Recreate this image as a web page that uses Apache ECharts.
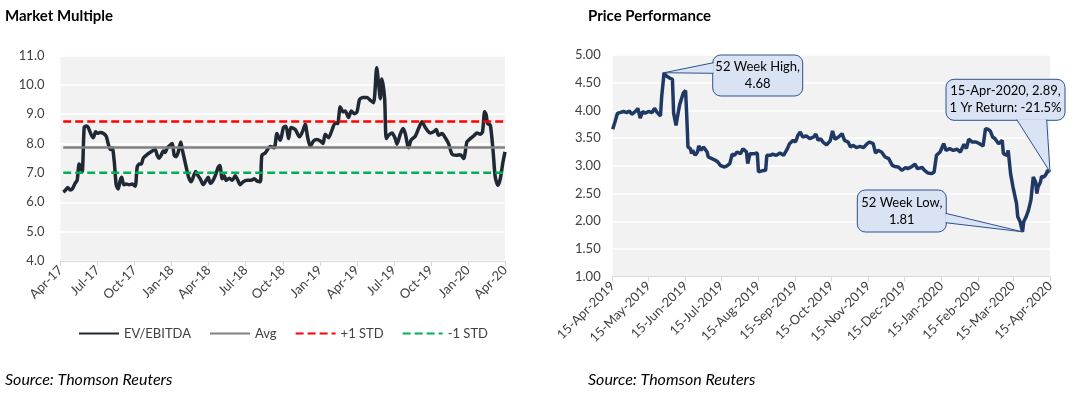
<!DOCTYPE html>
<html><head><meta charset="utf-8">
<script src="https://cdn.jsdelivr.net/npm/echarts@6/dist/echarts.min.js"></script>
<style>html,body{margin:0;padding:0;background:#fff}#c{width:1076px;height:394px}</style>
</head><body><div id="c"></div><script>
// ---------- Market Multiple (months since Apr-2017) ----------
const mmTickLabels = ['Apr-17','Jul-17','Oct-17','Jan-18','Apr-18','Jul-18','Oct-18','Jan-19','Apr-19','Jul-19','Oct-19','Jan-20','Apr-20'];
const mmMonth = [0.22,0.38,0.58,0.79,0.95,1.19,1.35,1.51,1.64,1.76,1.92,2.08,2.24,2.49,2.65,2.85,3.01,3.22,3.46,3.70,3.86,4.03,4.19,4.35,4.51,4.67,4.84,4.96,5.12,5.32,5.56,5.81,6.05,6.21,6.38,6.54,6.70,6.94,7.19,7.43,7.67,7.83,7.99,8.15,8.32,8.48,8.64,8.88,9.05,9.21,9.37,9.53,9.74,9.86,10.02,10.18,10.38,10.59,10.83,10.95,11.15,11.32,11.56,11.80,11.96,12.13,12.29,12.53,12.78,12.90,13.10,13.26,13.42,13.67,13.91,14.15,14.31,14.56,14.80,15.12,15.45,15.69,15.93,16.18,16.31,16.58,16.99,17.31,17.53,17.80,18.06,18.26,18.47,18.66,19.01,19.36,19.64,19.82,20.01,20.23,20.49,20.77,21.04,21.26,21.44,21.71,21.98,22.25,22.44,22.66,22.88,23.06,23.33,23.55,23.79,24.01,24.22,24.50,24.82,25.03,25.35,25.61,25.76,25.90,26.02,26.25,26.38,26.57,26.85,27.11,27.25,27.52,27.74,27.92,28.19,28.38,28.73,29.00,29.28,29.54,29.95,30.21,30.43,30.62,30.90,31.16,31.43,31.71,32.05,32.38,32.65,32.92,33.19,33.51,33.73,34.00,34.18,34.35,34.48,34.59,34.81,35.03,35.21,35.43,35.62,35.84,36.00];
const mmEvEbitda = [6.35,6.40,6.50,6.42,6.45,6.65,6.75,7.30,7.20,7.05,8.55,8.60,8.55,8.30,8.20,8.40,8.35,8.38,8.35,8.25,8.00,7.80,7.85,7.40,6.60,6.45,6.75,6.85,6.60,6.62,6.60,6.62,6.55,7.20,7.30,7.30,7.50,7.60,7.68,7.75,7.80,7.60,7.50,7.60,7.75,7.70,7.85,7.95,8.00,7.60,7.55,7.70,8.05,7.80,7.50,7.20,6.85,6.70,6.95,7.05,6.90,6.80,6.60,6.75,6.85,6.65,6.70,6.90,7.20,7.25,6.80,6.90,6.75,6.82,6.75,6.90,6.80,6.60,6.70,6.75,6.75,6.80,6.72,6.70,7.60,7.68,7.90,7.86,8.34,8.11,8.55,8.59,8.17,8.55,8.48,8.23,8.45,8.66,8.23,7.91,8.09,8.14,8.09,8.00,8.32,8.20,8.45,8.70,8.68,9.25,9.08,9.11,8.89,9.11,9.02,9.08,9.50,9.57,9.57,9.50,9.39,10.58,10.05,9.53,10.20,9.53,8.17,8.28,8.36,8.17,7.98,8.32,8.51,8.34,7.86,8.11,8.25,8.51,8.74,8.55,8.36,8.40,8.48,8.28,8.34,8.20,8.00,7.64,7.60,7.62,7.49,8.06,8.17,8.28,8.36,8.32,8.40,9.08,8.97,8.68,8.63,7.77,6.86,6.58,6.81,7.38,7.72];
const mmAvg = 7.87;
const mmPlusStd = 8.75;
const mmMinusStd = 7.01;

// ---------- Price Performance (days since 15-Apr-2019) ----------
const ppTickLabels = ['15-Apr-2019','15-May-2019','15-Jun-2019','15-Jul-2019','15-Aug-2019','15-Sep-2019','15-Oct-2019','15-Nov-2019','15-Dec-2019','15-Jan-2020','15-Feb-2020','15-Mar-2020','15-Apr-2020'];
const ppDay = [0,2,4,6,9,12,14,16,17,20,21,23,25,27,30,33,35,37,40,41,43,45,48,50,51,53,54,56,59,61,62,63,65,66,67,69,71,72,74,76,79,80,83,86,88,90,93,95,98,100,102,104,107,109,112,113,115,118,121,122,125,128,129,132,134,137,140,143,146,148,151,153,155,157,159,162,165,168,170,172,174,176,179,180,182,184,186,189,192,194,197,199,201,204,207,210,213,215,218,220,222,225,228,231,234,236,239,242,245,247,250,253,255,259,261,264,267,269,271,274,277,279,282,285,288,291,294,296,298,301,304,307,310,312,314,316,318,320,323,326,327,330,331,333,335,338,339,341,343,344,346,348,350,352,354,355,356,358,359,361,363,364,366];
const ppPrice = [3.66,3.80,3.95,3.96,3.98,3.96,3.99,3.93,3.96,4.00,4.04,3.86,3.98,3.95,3.98,3.96,4.04,3.97,3.90,4.25,4.68,4.62,4.58,4.56,3.95,3.73,3.86,4.10,4.31,4.36,3.89,3.34,3.31,3.22,3.28,3.19,3.25,3.36,3.28,3.34,3.25,3.16,3.13,3.10,3.07,3.01,2.98,2.99,3.04,3.21,3.19,3.25,3.22,3.31,3.25,3.04,3.22,3.22,3.23,2.89,2.91,2.92,3.19,3.19,3.21,3.19,3.23,3.19,3.30,3.40,3.46,3.43,3.55,3.61,3.52,3.54,3.49,3.52,3.57,3.46,3.49,3.43,3.38,3.36,3.45,3.63,3.48,3.52,3.58,3.46,3.43,3.34,3.37,3.33,3.35,3.33,3.40,3.43,3.40,3.23,3.28,3.25,3.16,3.13,3.01,2.99,2.98,2.92,2.97,2.95,2.98,3.03,2.95,2.97,2.92,2.87,2.86,2.89,3.19,3.25,3.40,3.28,3.31,3.28,3.30,3.25,3.39,3.31,3.48,3.43,3.43,3.40,3.36,3.67,3.66,3.63,3.52,3.49,3.40,3.46,3.22,3.19,3.28,2.86,2.62,2.32,2.08,1.99,1.81,1.99,2.08,2.20,2.38,2.80,2.71,2.50,2.62,2.71,2.81,2.80,2.86,2.92,2.89];
const ppHighText = ['52 Week High,', '4.68'];
const ppLowText = ['52 Week Low,', '1.81'];
const ppLastText = ['15-Apr-2020, 2.89,', '1 Yr Return: -21.5%'];

// ---------- helpers ----------
const MONTHS = {Jan:0,Feb:1,Mar:2,Apr:3,May:4,Jun:5,Jul:6,Aug:7,Sep:8,Oct:9,Nov:10,Dec:11};
function dayOf(label){ const p = label.split('-'); return Date.UTC(+p[2], MONTHS[p[1]], +p[0]); }
const base0 = dayOf(ppTickLabels[0]);
const ppTickDays = ppTickLabels.map(l => Math.round((dayOf(l) - base0) / 86400000));

const FONT = 'Lato, "Open Sans", sans-serif';
const TXT = '#404040';
const mmData = mmMonth.map((m, i) => [m, mmEvEbitda[i]]);
const ppData = ppDay.map((d, i) => [d, ppPrice[i]]);
const m0 = mmMonth[0], m1 = mmMonth[mmMonth.length - 1];

const chart = echarts.init(document.getElementById('c'), null, {renderer: 'canvas'});
const option = {
  animation: false,
  textStyle: {fontFamily: FONT},
  title: [
    {text: 'Market Multiple', left: 5, top: 9, padding: 0, textStyle: {fontFamily: FONT, fontSize: 15, fontWeight: 'bold', color: '#000'}},
    {text: 'Price Performance', left: 588, top: 9, padding: 0, textStyle: {fontFamily: FONT, fontSize: 15, fontWeight: 'bold', color: '#000'}},
    {text: 'Source: Thomson Reuters', left: 5, top: 372, padding: 0, textStyle: {fontFamily: FONT, fontSize: 16, fontStyle: 'italic', fontWeight: 'normal', color: '#000'}},
    {text: 'Source: Thomson Reuters', left: 588, top: 372, padding: 0, textStyle: {fontFamily: FONT, fontSize: 16, fontStyle: 'italic', fontWeight: 'normal', color: '#000'}}
  ],
  legend: {
    left: 78, top: 327, padding: 0, itemWidth: 40, itemHeight: 12, itemGap: 18,
    data: ['EV/EBITDA', 'Avg', '+1 STD', '-1 STD'],
    itemStyle: {opacity: 0},
    textStyle: {fontFamily: FONT, fontSize: 13, color: TXT}
  },
  grid: [
    {left: 60.5, top: 55.5, width: 444.5, height: 205.5, show: true, backgroundColor: '#f2f2f2', borderWidth: 0},
    {left: 612.7, top: 55, width: 437.3, height: 221.7, show: true, backgroundColor: '#f2f2f2', borderWidth: 0}
  ],
  xAxis: [
    {type: 'value', gridIndex: 0, min: 0, max: 36, interval: 3,
     axisLine: {show: true, lineStyle: {color: '#d9d9d9', width: 1}},
     axisTick: {show: true, length: 5, lineStyle: {color: '#d9d9d9'}},
     splitLine: {show: false},
     axisLabel: {rotate: 45, margin: 7, fontFamily: FONT, fontSize: 13, color: TXT,
       formatter: v => mmTickLabels[Math.round(v / 3)] || ''}},
    {type: 'value', gridIndex: 1, min: 0, max: ppTickDays[ppTickDays.length - 1],
     axisLine: {show: true, lineStyle: {color: '#d9d9d9', width: 1}},
     axisTick: {show: true, length: 5, customValues: ppTickDays, lineStyle: {color: '#d9d9d9'}},
     splitLine: {show: false},
     axisLabel: {rotate: 45, margin: 7, fontFamily: FONT, fontSize: 13, color: TXT, customValues: ppTickDays,
       formatter: v => { const i = ppTickDays.indexOf(Math.round(v)); return i >= 0 ? ppTickLabels[i] : ''; }}}
  ],
  yAxis: [
    {type: 'value', gridIndex: 0, min: 4, max: 11, interval: 1,
     axisLine: {show: false}, axisTick: {show: false},
     splitLine: {show: true, lineStyle: {color: '#ffffff', width: 1.5}},
     axisLabel: {margin: 16, fontFamily: FONT, fontSize: 13, color: TXT, formatter: v => v.toFixed(1)}},
    {type: 'value', gridIndex: 1, min: 1, max: 5, interval: 0.5,
     axisLine: {show: false}, axisTick: {show: false},
     splitLine: {show: true, lineStyle: {color: '#ffffff', width: 1.5}},
     axisLabel: {margin: 12, fontFamily: FONT, fontSize: 13, color: TXT, formatter: v => v.toFixed(2)}}
  ],
  series: [
    {name: 'EV/EBITDA', type: 'line', xAxisIndex: 0, yAxisIndex: 0, data: mmData, symbol: 'none', smooth: 0.25,
     lineStyle: {color: '#1f2833', width: 3.5}, itemStyle: {color: '#1f2833'}},
    {name: 'Avg', type: 'line', xAxisIndex: 0, yAxisIndex: 0, data: [[m0, mmAvg], [m1, mmAvg]], symbol: 'none',
     lineStyle: {color: '#808080', width: 2.5}, itemStyle: {color: '#808080'}},
    {name: '+1 STD', type: 'line', xAxisIndex: 0, yAxisIndex: 0, data: [[m0, mmPlusStd], [m1, mmPlusStd]], symbol: 'none',
     lineStyle: {color: '#ff0000', width: 2.5, type: [8, 4]}, itemStyle: {color: '#ff0000'}},
    {name: '-1 STD', type: 'line', xAxisIndex: 0, yAxisIndex: 0, data: [[m0, mmMinusStd], [m1, mmMinusStd]], symbol: 'none',
     lineStyle: {color: '#00b050', width: 2.5, type: [8, 4]}, itemStyle: {color: '#00b050'}},
    {name: 'Price', type: 'line', xAxisIndex: 1, yAxisIndex: 1, data: ppData, symbol: 'none',
     lineStyle: {color: '#1f3864', width: 3.5}, itemStyle: {color: '#1f3864'}}
  ]
};
chart.setOption(option);

// ---------- callouts ----------
function tipOf(i){ return chart.convertToPixel({xAxisIndex: 1, yAxisIndex: 1}, ppData[i]); }
const iHigh = ppPrice.indexOf(Math.max(...ppPrice));
const iLow = ppPrice.indexOf(Math.min(...ppPrice));
const iLast = ppPrice.length - 1;
const FILL = '#dae3f3', STROKE = '#2f528f';
function callout(box, b1, b2, tip, lines, z){
  const els = [];
  els.push({type: 'rect', z: z, shape: {x: box[0], y: box[1], width: box[2], height: box[3], r: 8},
            style: {fill: FILL, stroke: STROKE, lineWidth: 1}});
  els.push({type: 'polygon', z: z + 1, shape: {points: [b1, b2, tip]}, style: {fill: FILL, stroke: null}});
  els.push({type: 'polyline', z: z + 2, shape: {points: [b1, tip, b2]}, style: {fill: null, stroke: STROKE, lineWidth: 1}});
  els.push({type: 'text', z: z + 3, style: {text: lines.join('\n'), x: box[0] + box[2] / 2, y: box[1] + box[3] / 2,
            align: 'center', verticalAlign: 'middle', lineHeight: 17, font: '13px ' + FONT, fill: '#000'}});
  return els;
}
const tH = tipOf(iHigh), tL = tipOf(iLow), tE = tipOf(iLast);
const g = [].concat(
  callout([712.7, 55, 90, 41], [713.5, 62.7], [713.5, 73.3], tH, ppHighText, 100),
  callout([946, 79.3, 119, 41], [1016.7, 119.5], [1046.7, 119.5], tE, ppLastText, 110),
  callout([857.3, 190, 89, 42], [945.5, 213.3], [945.5, 222.7], tL, ppLowText, 120)
);
chart.setOption({graphic: g});
</script></body></html>
